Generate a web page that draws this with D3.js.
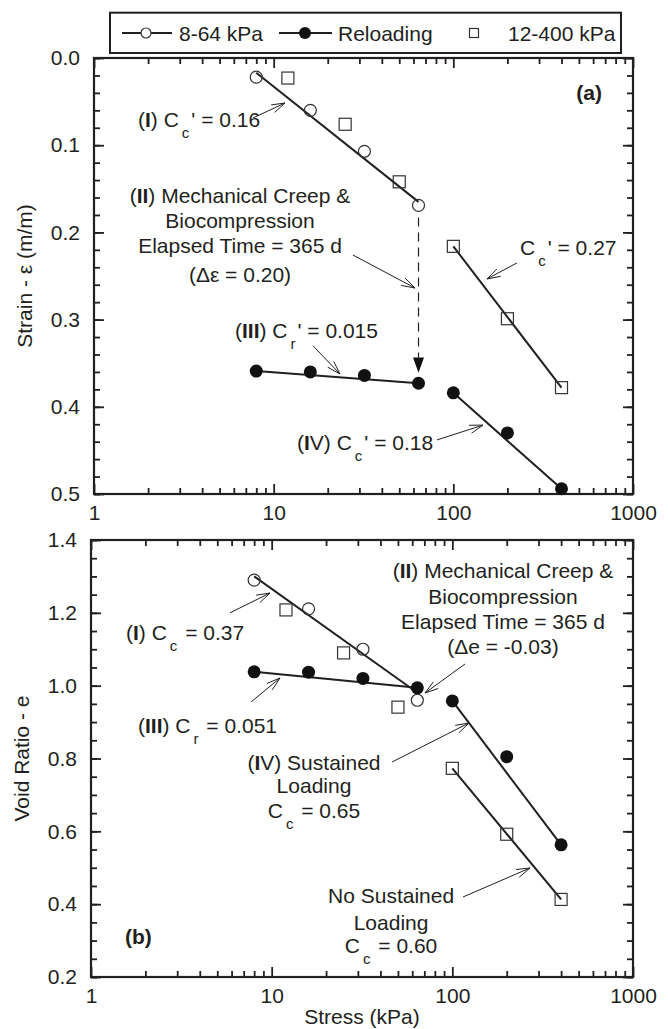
<!DOCTYPE html>
<html><head><meta charset="utf-8">
<script src="https://cdn.jsdelivr.net/npm/d3@7"></script>
<style>
body{margin:0;background:#fff}
text{font-family:"Liberation Sans",Arial,sans-serif;fill:#231f20}
</style>
</head><body>
<svg id="c" width="668" height="1029"></svg>
<script>
// ---------------- DATA ----------------
const legendLabels = ["8-64 kPa", "Reloading", "12-400 kPa"];
const xTicks = [1, 10, 100, 1000];
const xTickLabels = ["1", "10", "100", "1000"];
const strainTicks = [0.0, 0.1, 0.2, 0.3, 0.4, 0.5];
const strainTickLabels = ["0.0", "0.1", "0.2", "0.3", "0.4", "0.5"];
const voidTicks = [0.2, 0.4, 0.6, 0.8, 1.0, 1.2, 1.4];
const voidTickLabels = ["0.2", "0.4", "0.6", "0.8", "1.0", "1.2", "1.4"];

// 8-64 kPa loading (open circles)
const stressLoad = [8, 16, 32, 64];
const strainLoad = [0.022, 0.060, 0.107, 0.169];
const voidLoad = [1.29, 1.211, 1.10, 0.96];
// 12-400 kPa (open squares)
const stressSq = [12, 25, 50, 100, 200, 400];
const strainSq = [0.023, 0.076, 0.142, 0.216, 0.299, 0.378];
const voidSq = [1.208, 1.09, 0.941, 0.773, 0.592, 0.413];
// Reloading (filled circles)
const stressReload = [8, 16, 32, 64, 100, 200, 400];
const strainReload = [0.359, 0.360, 0.364, 0.373, 0.384, 0.430, 0.494];
const voidReload = [1.038, 1.037, 1.020, 0.994, 0.958, 0.805, 0.563];

// fitted lines [[x1,y1],[x2,y2]]
const strainFits = [[[8, 0.017], [64, 0.165]], [[8, 0.359], [64, 0.373]],
                    [[100, 0.216], [400, 0.378]], [[100, 0.384], [400, 0.494]]];
const voidFits = [[[8, 1.30], [61, 0.988]], [[8, 1.038], [64, 0.994]],
                  [[100, 0.958], [400, 0.563]], [[100, 0.773], [400, 0.413]]];
// dashed creep arrow (strain panel)
const creepArrow = [[64, 0.183], [64, 0.3435], [64, 0.361]];

// annotation arrows [xFrom, yFrom, xTo, yTo]
const strainArrows = [[7.67, 0.0688, 11.56, 0.0516], [27.6, 0.2259, 61.2, 0.2638],
                      [16.55, 0.330, 23.4, 0.3624], [226, 0.235, 153.9, 0.2534],
                      [81.1, 0.438, 146.3, 0.421]];
const voidArrows = [[5.88, 1.2, 9.79, 1.2545], [7.69, 0.9552, 11.12, 1.021],
                    [117.5, 1.0595, 70.6, 0.9799], [46.4, 0.7904, 123.7, 0.8975],
                    [114.6, 0.4197, 269, 0.4993]];

// annotation texts: *bold*, _x = subscript char
const strainNotes = [
  {a: "start", x: 1.758, ys: [0.0791], lines: ["(*I*) C_c' = 0.16"]},
  {a: "middle", x: 6.495, ys: [0.1663, 0.1950, 0.2236, 0.2569],
   lines: ["(*II*) Mechanical Creep &", "Biocompression", "Elapsed Time = 365 d", "(Δε = 0.20)"]},
  {a: "start", x: 6.09, ys: [0.3211], lines: ["(*III*) C_r' = 0.015"]},
  {a: "start", x: 235, ys: [0.2259], lines: ["C_c' = 0.27"]},
  {a: "start", x: 13.49, ys: [0.4495], lines: ["(*I*V) C_c' = 0.18"]},
  {a: "end", x: 672, ys: [0.0482], lines: ["*(a)*"]}
];
const voidNotes = [
  {a: "start", x: 1.562, ys: [1.1254], lines: ["(*I*) C_c = 0.37"]},
  {a: "start", x: 1.82, ys: [0.870], lines: ["(*III*) C_r = 0.051"]},
  {a: "middle", x: 190.7, ys: [1.2957, 1.2243, 1.1556, 1.087],
   lines: ["(*II*) Mechanical Creep &", "Biocompression", "Elapsed Time = 365 d", "(Δe = -0.03)"]},
  {a: "middle", x: 17.15, ys: [0.7684, 0.7053, 0.6366], lines: ["(*I*V) Sustained", "Loading", "C_c = 0.65"]},
  {a: "middle", x: 45.8, ys: [0.4032, 0.3291, 0.2659], lines: ["No Sustained", "Loading", "C_c = 0.60"]},
  {a: "start", x: 1.543, ys: [0.2906], lines: ["*(b)*"]}
];

// ---------------- DRAWING ----------------
const svg = d3.select("#c");
const INK = "#231f20";
const FS = 21;

function minorTicks(lo, hi, step) {
  const out = [];
  const n = Math.round((hi - lo) / step);
  for (let i = 0; i <= n; i++) out.push(+(lo + i * step).toFixed(4));
  return out;
}
const xMinor = [];
for (let d = 1; d < 1000; d *= 10) for (let k = 2; k <= 9; k++) xMinor.push(d * k);

function richText(sel, str) {
  let i = 0, bold = false, buf = "";
  const segs = [];
  const flush = () => { if (buf) { segs.push({t: buf, b: bold, s: false}); buf = ""; } };
  while (i < str.length) {
    const ch = str[i];
    if (ch === "*") { flush(); bold = !bold; i++; continue; }
    if (ch === "_") { flush(); segs.push({t: str[i + 1], b: bold, s: true}); i += 2; continue; }
    buf += ch; i++;
  }
  flush();
  let inSub = false;
  segs.forEach(sg => {
    const ts = sel.append("tspan").text(sg.t).attr("font-weight", sg.b ? "bold" : "normal");
    if (sg.s) { ts.attr("font-size", 15).attr("dy", 11).attr("dx", 3); inSub = true; }
    else if (inSub) { ts.attr("dy", -11).attr("dx", 2); inSub = false; }
  });
}

function arrowHead(g, x1, y1, x2, y2, len, ang) {
  const a = Math.atan2(y2 - y1, x2 - x1);
  const p1 = [x2 - len * Math.cos(a - ang), y2 - len * Math.sin(a - ang)];
  const p2 = [x2 - len * Math.cos(a + ang), y2 - len * Math.sin(a + ang)];
  g.append("path").attr("d", `M${p1}L${x2},${y2}L${p2}`)
    .attr("fill", "none").attr("stroke", INK).attr("stroke-width", 1);
}

function panel(cfg) {
  const {left, right, top, bottom, yDomain, yRange, yMajor, yMajorLabels, yMinorStep,
         yTitle, yTitleX, xTitle, ys, fits, arrows, notes} = cfg;
  const x = d3.scaleLog().domain([1, 1000]).range([left, right]);
  const y = d3.scaleLinear().domain(yDomain).range(yRange);
  const g = svg.append("g");
  const yMinor = minorTicks(Math.min(...yDomain), Math.max(...yDomain), yMinorStep);

  function styleAxis(ax) {
    ax.select(".domain").remove();
    ax.selectAll(".tick line").attr("stroke", INK).attr("stroke-width", 1.8);
    ax.selectAll("text").attr("font-size", FS).attr("fill", INK)
      .attr("font-family", '"Liberation Sans",Arial,sans-serif');
  }
  // bottom
  styleAxis(g.append("g").attr("transform", `translate(0,${bottom})`)
    .call(d3.axisBottom(x).tickValues(xMinor).tickSize(-6).tickFormat("")));
  styleAxis(g.append("g").attr("transform", `translate(0,${bottom})`)
    .call(d3.axisBottom(x).tickValues(xTicks).tickSize(-10).tickPadding(11)
      .tickFormat((d, i) => xTickLabels[i])));
  // top
  styleAxis(g.append("g").attr("transform", `translate(0,${top})`)
    .call(d3.axisTop(x).tickValues(xMinor).tickSize(-6).tickFormat("")));
  styleAxis(g.append("g").attr("transform", `translate(0,${top})`)
    .call(d3.axisTop(x).tickValues(xTicks).tickSize(-10).tickFormat("")));
  // left
  styleAxis(g.append("g").attr("transform", `translate(${left},0)`)
    .call(d3.axisLeft(y).tickValues(yMinor).tickSize(-6).tickFormat("")));
  styleAxis(g.append("g").attr("transform", `translate(${left},0)`)
    .call(d3.axisLeft(y).tickValues(yMajor).tickSize(-10).tickPadding(14)
      .tickFormat((d, i) => yMajorLabels[i])));
  // right
  styleAxis(g.append("g").attr("transform", `translate(${right},0)`)
    .call(d3.axisRight(y).tickValues(yMinor).tickSize(-6).tickFormat("")));
  styleAxis(g.append("g").attr("transform", `translate(${right},0)`)
    .call(d3.axisRight(y).tickValues(yMajor).tickSize(-10).tickFormat("")));
  // frame
  g.append("rect").attr("x", left).attr("y", top).attr("width", right - left)
    .attr("height", bottom - top).attr("fill", "none").attr("stroke", INK).attr("stroke-width", 2.2);

  // titles
  g.append("text").attr("transform", `translate(${yTitleX},${(top + bottom) / 2}) rotate(-90)`)
    .attr("text-anchor", "middle").attr("font-size", FS).text(yTitle);
  if (xTitle) g.append("text").attr("x", (left + right) / 2).attr("y", bottom + 47)
    .attr("text-anchor", "middle").attr("font-size", FS).text(xTitle);

  // fit lines
  fits.forEach(f => g.append("line")
    .attr("x1", x(f[0][0])).attr("y1", y(f[0][1])).attr("x2", x(f[1][0])).attr("y2", y(f[1][1]))
    .attr("stroke", INK).attr("stroke-width", 2));

  // markers
  stressLoad.forEach((s, i) => g.append("circle").attr("cx", x(s)).attr("cy", y(ys.load[i])).attr("r", 6)
    .attr("fill", "none").attr("stroke", "#333").attr("stroke-width", 1.2));
  stressSq.forEach((s, i) => g.append("rect").attr("x", x(s) - 6).attr("y", y(ys.sq[i]) - 6)
    .attr("width", 12).attr("height", 12)
    .attr("fill", "none").attr("stroke", "#333").attr("stroke-width", 1.2));
  stressReload.forEach((s, i) => g.append("circle").attr("cx", x(s)).attr("cy", y(ys.reload[i])).attr("r", 6.5)
    .attr("fill", "#111"));

  // annotation arrows
  arrows.forEach(a => {
    const x1 = x(a[0]), y1 = y(a[1]), x2 = x(a[2]), y2 = y(a[3]);
    g.append("line").attr("x1", x1).attr("y1", y1).attr("x2", x2).attr("y2", y2)
      .attr("stroke", INK).attr("stroke-width", 1);
    arrowHead(g, x1, y1, x2, y2, 14, 0.3);
  });

  // notes
  notes.forEach(n => n.lines.forEach((ln, i) => {
    const t = g.append("text").attr("x", x(n.x)).attr("y", y(n.ys[i]))
      .attr("text-anchor", n.a).attr("font-size", FS);
    richText(t, ln);
  }));
  return {g, x, y};
}

const pa = panel({
  left: 94, right: 633, top: 58, bottom: 494,
  yDomain: [0, 0.5], yRange: [58, 494], yMajor: strainTicks, yMajorLabels: strainTickLabels, yMinorStep: 0.02,
  yTitle: "Strain - ε (m/m)", yTitleX: 32, xTitle: null,
  ys: {load: strainLoad, sq: strainSq, reload: strainReload},
  fits: strainFits, arrows: strainArrows, notes: strainNotes
});
// dashed creep arrow
{
  const {g, x, y} = pa;
  const cx = x(creepArrow[0][0]);
  g.append("line").attr("x1", cx).attr("y1", y(creepArrow[0][1])).attr("x2", cx).attr("y2", y(creepArrow[1][1]))
    .attr("stroke", INK).attr("stroke-width", 1.2).attr("stroke-dasharray", "9,6");
  const yb = y(creepArrow[1][1]), yt = y(creepArrow[2][1]);
  g.append("path").attr("d", `M${cx - 5.5},${yb}L${cx + 5.5},${yb}L${cx},${yt}Z`).attr("fill", "#111");
}

panel({
  left: 91, right: 633, top: 540, bottom: 977,
  yDomain: [0.2, 1.4], yRange: [977, 540], yMajor: voidTicks, yMajorLabels: voidTickLabels, yMinorStep: 0.05,
  yTitle: "Void Ratio - e", yTitleX: 29, xTitle: "Stress (kPa)",
  ys: {load: voidLoad, sq: voidSq, reload: voidReload},
  fits: voidFits, arrows: voidArrows, notes: voidNotes
});

// legend
{
  const lg = svg.append("g");
  lg.append("rect").attr("x", 110).attr("y", 12.7).attr("width", 511).attr("height", 40.3)
    .attr("fill", "#fff").attr("stroke", INK).attr("stroke-width", 2);
  const cy = 33;
  lg.append("line").attr("x1", 122).attr("x2", 172).attr("y1", cy).attr("y2", cy).attr("stroke", INK).attr("stroke-width", 2);
  lg.append("circle").attr("cx", 146).attr("cy", cy).attr("r", 5).attr("fill", "#fff").attr("stroke", "#333").attr("stroke-width", 1.2);
  lg.append("text").attr("x", 179).attr("y", cy).attr("dy", "0.36em").attr("font-size", FS).text(legendLabels[0]);
  lg.append("line").attr("x1", 279).attr("x2", 332).attr("y1", cy).attr("y2", cy).attr("stroke", INK).attr("stroke-width", 2);
  lg.append("circle").attr("cx", 305).attr("cy", cy).attr("r", 6).attr("fill", "#111");
  lg.append("text").attr("x", 338).attr("y", cy).attr("dy", "0.36em").attr("font-size", FS).text(legendLabels[1]);
  lg.append("rect").attr("x", 469.5).attr("y", cy - 4.5).attr("width", 9).attr("height", 9)
    .attr("fill", "none").attr("stroke", "#333").attr("stroke-width", 1.2);
  lg.append("text").attr("x", 508).attr("y", cy).attr("dy", "0.36em").attr("font-size", FS).text(legendLabels[2]);
}
</script>
</body></html>
